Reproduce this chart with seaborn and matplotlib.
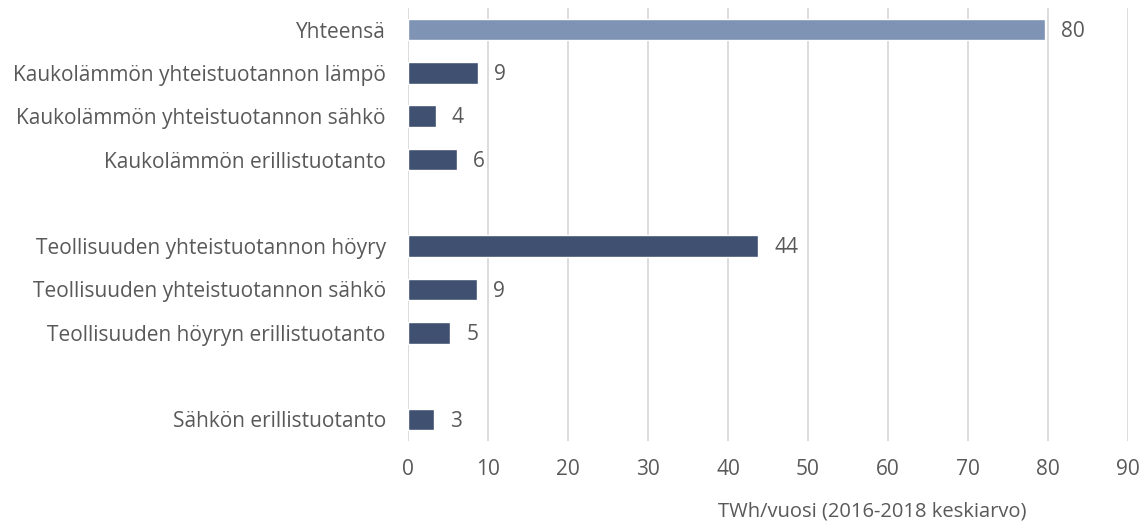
import matplotlib
matplotlib.use("Agg")
import matplotlib.pyplot as plt
import seaborn as sns
import pandas as pd

# values (TWh/vuosi, 2016-2018 average)
categories = [
    "Yhteensä",
    "Kaukolämmön yhteistuotannon lämpö",
    "Kaukolämmön yhteistuotannon sähkö",
    "Kaukolämmön erillistuotanto",
    "Teollisuuden yhteistuotannon höyry",
    "Teollisuuden yhteistuotannon sähkö",
    "Teollisuuden höyryn erillistuotanto",
    "Sähkön erillistuotanto",
]
values = [79.6, 8.8, 3.5, 6.1, 43.8, 8.6, 5.3, 3.3]
# empty rows in the chart are just placeholder levels
order = categories[:4] + [" "] + categories[4:7] + ["  "] + categories[7:]
x_ticks = list(range(0, 100, 10))

sns.set_theme(style="white")
plt.rcParams["font.family"] = ["Open Sans", "DejaVu Sans"]

df = pd.DataFrame({"cat": categories, "val": values})
palette = {c: "#3F5070" for c in categories}
palette["Yhteensä"] = "#7F93B5"

fig = plt.figure(figsize=(11.45, 5.22), dpi=100)
ax = fig.add_axes([408 / 1145, 1 - 441 / 522, 720 / 1145, 433 / 522])

sns.barplot(data=df, x="val", y="cat", hue="cat", order=order, palette=palette,
            width=0.5, legend=False, ax=ax, saturation=1)

ax.set_xlim(0, 90)
ax.set_xticks(x_ticks)
ax.grid(axis="x", color="#D9D9D9", linewidth=1.3)
ax.set_axisbelow(True)
for s in ax.spines.values():
    s.set_visible(False)
ax.tick_params(axis="both", length=0, labelsize=15, labelcolor="#595959")
ax.tick_params(axis="y", pad=16)
ax.tick_params(axis="x", pad=13)
ax.set_xlabel("")
ax.set_ylabel("")

# value labels with white background (gridlines hidden behind them)
for c, v in zip(categories, values):
    ax.text(v + 2.0, order.index(c) + 0.04, f"{v:.0f}", va="center", ha="left",
            fontsize=15, color="#595959",
            bbox=dict(facecolor="white", edgecolor="none", pad=2))

fig.text(872 / 1145, 1 - 511 / 522, "TWh/vuosi (2016-2018 keskiarvo)",
         ha="center", va="center", fontsize=14.5, color="#595959")

fig.savefig("out.png", dpi=100)
